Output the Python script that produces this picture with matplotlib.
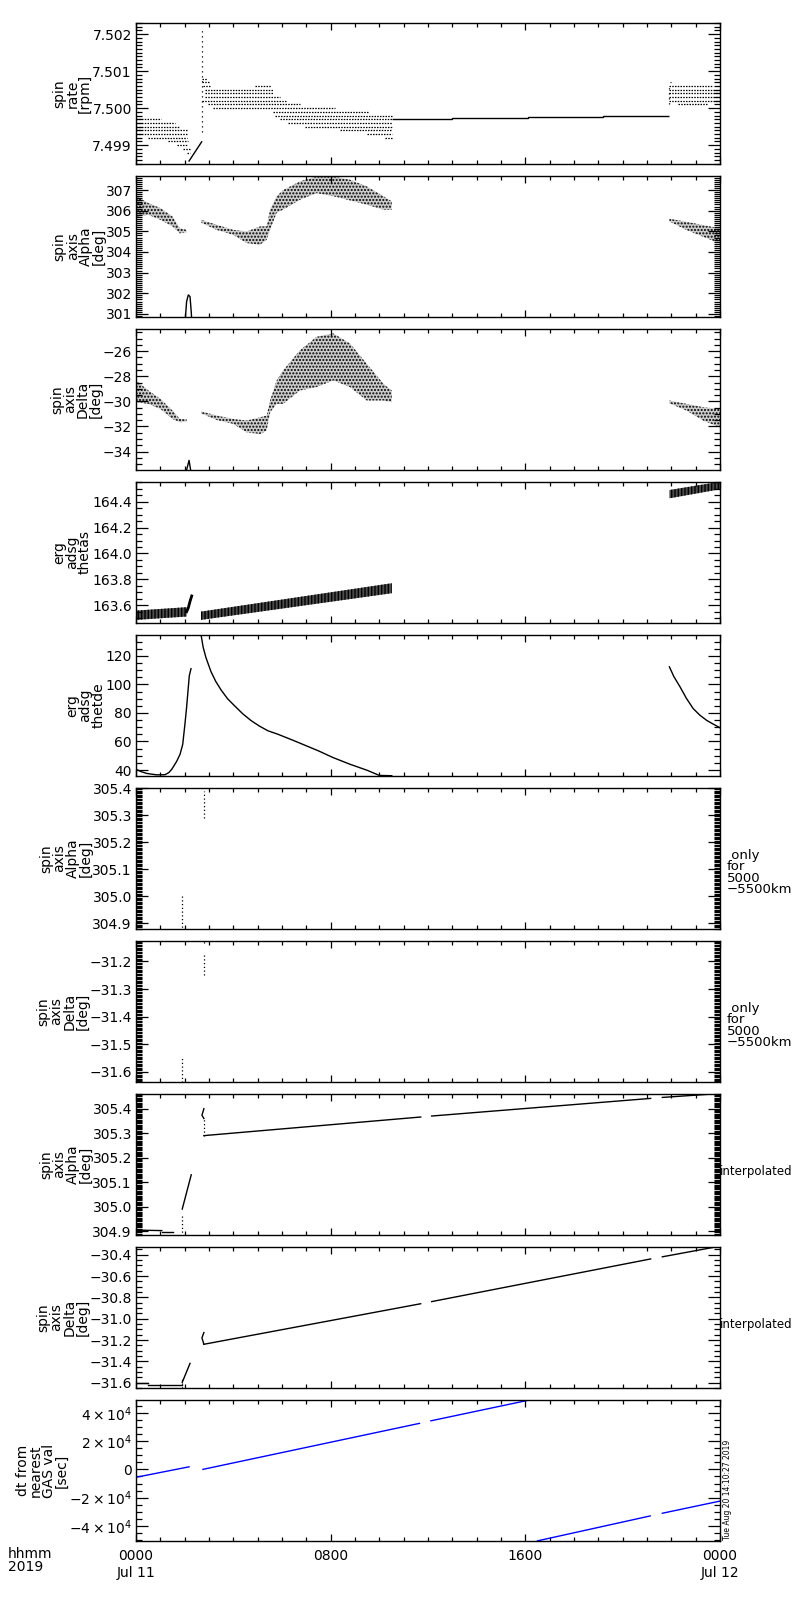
import numpy as np
import matplotlib.pyplot as plt
from matplotlib.ticker import MultipleLocator, FixedLocator, FuncFormatter

plt.rcParams['font.family'] = ['DejaVu Sans']
plt.rcParams['hatch.linewidth'] = 1.0
plt.rcParams['axes.linewidth'] = 1.0

# time axis: hours after 0000 Jul 11 2019
hour_ticks = [0, 8, 16, 24]
hour_labels = ['0000\nJul 11', '0800', '1600', '0000\nJul 12']

# --- spin rate: quantised dotted rows (level, start, end)
rate_level = [7.4997, 7.4996, 7.4995, 7.4994, 7.4993, 7.4992, 7.4991, 7.4990, 7.4989, 7.4988,
              7.5008, 7.5007, 7.5006, 7.5006, 7.5005, 7.5004, 7.5003, 7.5002, 7.5001, 7.5000,
              7.4999, 7.4998, 7.4997, 7.4996, 7.4995, 7.4994, 7.4993, 7.4992,
              7.5007, 7.5006, 7.5005, 7.5004, 7.5003, 7.5002, 7.5001]
rate_start = [0.00, 0.00, 0.00, 0.00, 0.00, 0.50, 1.33, 1.67, 1.95, 2.08,
              2.72, 2.72, 2.77, 4.89, 2.84, 2.84, 2.84, 2.72, 2.97, 3.18,
              5.64, 5.71, 5.92, 6.26, 6.95, 8.38, 9.48, 10.23,
              21.96, 21.92, 21.92, 21.92, 21.92, 21.92, 22.29]
rate_end = [1.03, 1.60, 1.81, 2.08, 2.08, 2.08, 2.15, 2.15, 2.22, 2.22,
            2.93, 3.04, 3.04, 5.53, 5.64, 5.64, 5.92, 6.19, 6.74, 8.18,
            9.55, 10.51, 10.51, 10.51, 10.51, 10.51, 10.51, 10.51,
            22.00, 23.66, 24.0, 24.0, 24.0, 24.0, 23.52]
rate_step_edges = [10.51, 12.97, 16.13, 19.20, 21.92]
rate_step_vals = [7.49970, 7.49973, 7.49976, 7.49978]
rate_ramp_t = [2.18, 2.70]
rate_ramp_v = [7.49857, 7.49909]
rate_spike_t = [2.70, 21.92]
rate_spike_lo = [7.49936, 7.50010]
rate_spike_hi = [7.50220, 7.50060]

# --- spin axis Alpha (scatter envelopes)
alpha_a_t = [0, 0.51, 1.0, 1.5, 1.8, 2.08]
alpha_a_hi = [306.7, 306.37, 306.13, 305.72, 305.15, 305.07]
alpha_a_lo = [305.7, 305.8, 305.56, 305.24, 304.9, 304.96]
alpha_b_t = [2.67, 3.31, 4.0, 4.55, 5.1, 5.37, 5.51, 5.78, 6.05, 6.74, 7.42, 8.11, 8.79, 9.48, 10.17, 10.51]
alpha_b_hi = [305.56, 305.32, 305.07, 304.99, 305.24, 305.24, 306.05, 306.7, 307.0, 307.42, 307.66,
              307.66, 307.5, 307.18, 306.7, 306.45]
alpha_b_lo = [305.43, 305.07, 304.83, 304.43, 304.35, 304.59, 305.07, 305.9, 306.05, 306.53, 306.85,
              306.7, 306.5, 306.29, 306.05, 306.05]
alpha_c_t = [21.92, 22.63, 23.32, 24.0]
alpha_c_hi = [305.61, 305.46, 305.30, 305.14]
alpha_c_lo = [305.48, 305.06, 304.73, 304.41]
alpha_spike_t = [2.01, 2.08, 2.15, 2.22, 2.27, 2.30]
alpha_spike_v = [300.5, 301.6, 301.92, 301.84, 301.1, 300.5]

# --- spin axis Delta
delta_a_t = [0, 0.51, 1.0, 1.5, 1.8, 2.08]
delta_a_hi = [-28.33, -29.13, -29.8, -30.73, -31.4, -31.43]
delta_a_lo = [-30.06, -30.20, -30.6, -31.4, -31.67, -31.6]
delta_b_t = alpha_b_t
delta_b_hi = [-30.79, -31.13, -31.4, -31.53, -31.27, -31.13, -29.93, -28.33, -27.52, -25.92, -24.85,
              -24.58, -25.38, -26.99, -28.6, -29.13]
delta_b_lo = [-30.95, -31.48, -31.8, -32.47, -32.6, -32.34, -30.87, -30.2, -30.2, -29.13, -28.86,
              -28.33, -28.86, -29.93, -29.93, -30.06]
delta_c_t = [21.92, 22.63, 23.32, 24.0]
delta_c_hi = [-29.93, -30.2, -30.47, -30.6]
delta_c_lo = [-30.15, -30.74, -31.54, -32.07]
delta_spike_t = [2.01, 2.18, 2.29]
delta_spike_v = [-36.0, -34.7, -36.0]

# --- erg adsg thetas (sawtooth band)
thetas_a_t = [0, 2.08]
thetas_a_lo = [163.487, 163.513]
thetas_a_hi = [163.559, 163.585]
thetas_ramp_t = [2.08, 2.15, 2.22, 2.29]
thetas_ramp_v = [163.55, 163.58, 163.63, 163.672]
thetas_b_t = [2.67, 10.51]
thetas_b_lo = [163.487, 163.693]
thetas_b_hi = [163.551, 163.77]
thetas_c_t = [21.92, 24.0]
thetas_c_lo = [164.426, 164.496]
thetas_c_hi = [164.49, 164.554]

# --- erg adsg thetade
thetade_a_t = [0, 0.22, 0.44, 0.85, 1.19, 1.35, 1.47, 1.67, 1.81, 1.92, 2.01, 2.08, 2.15, 2.19, 2.26]
thetade_a_v = [40.5, 38.8, 37.6, 36.6, 36.7, 38.2, 40.5, 46, 51, 58, 72, 84, 98, 106, 111]
thetade_b_t = [2.65, 2.76, 2.87, 3.08, 3.28, 3.5, 3.76, 4.05, 4.38, 4.73, 5.07, 5.42, 5.84, 6.5,
               7.5, 8.1, 8.8, 9.5, 10.0, 10.51]
thetade_b_v = [137, 126, 119, 109, 102, 96, 90, 85, 79.5, 74.6, 70.8, 67.5, 65, 60.5,
               53.4, 48.7, 44, 39.8, 36.2, 36.0]
thetade_c_t = [21.92, 22.1, 22.36, 22.62, 22.9, 23.18, 23.46, 23.74, 24.0]
thetade_c_v = [112.3, 105.6, 98.2, 90.2, 83.0, 78.3, 74.7, 72.0, 69.6]

# --- alpha / delta only for 5000-5500 km (vertical dotted runs)
ofa_t = [1.90, 2.79]
ofa_lo = [304.87, 305.29]
ofa_hi = [305.00, 305.39]
ofd_t = [1.90, 2.79, 2.79]
ofd_lo = [-31.65, -31.25, -31.135]
ofd_hi = [-31.546, -31.17, -31.125]

# --- interpolated alpha
ia_seg_t = [[0, 1.06], [1.07, 1.51], [1.90, 2.27], [2.79, 2.71, 2.79],
            [2.79, 11.70], [12.15, 21.15], [21.63, 24.0]]
ia_seg_v = [[304.904, 304.902], [304.895, 304.895], [304.99, 305.13], [305.40, 305.373, 305.36],
            [305.29, 305.366], [305.370, 305.442], [305.446, 305.462]]
ia_dot_t = [1.90, 2.79]
ia_dot_lo = [304.88, 305.29]
ia_dot_hi = [304.97, 305.36]

# --- interpolated delta
id_seg_t = [[0, 0.51], [0.51, 1.88], [1.90, 2.22], [2.79, 2.71, 2.79],
            [2.79, 11.70], [12.15, 21.15], [21.63, 24.0]]
id_seg_v = [[-31.60, -31.60], [-31.619, -31.619], [-31.597, -31.419], [-31.13, -31.18, -31.24],
            [-31.24, -30.86], [-30.84, -30.44], [-30.42, -30.32]]
id_dot_t = [1.90]
id_dot_lo = [-31.65]
id_dot_hi = [-31.56]

# --- dt from nearest GAS val [sec]
dt_seg_t = [[0, 2.18], [2.75, 11.65], [12.12, 16.17], [16.5, 21.13], [21.63, 24.0]]
dt_seg_v = [[-5600, 1800], [0, 32500], [34300, 49000], [-50500, -32900], [-31000, -22400]]

panels = [
    dict(label='spin\nrate\n[rpm]', ylim=(7.49849, 7.5023), major=0.001, minor=0.0001, fmt='%.3f'),
    dict(label='spin\naxis\nAlpha\n[deg]', ylim=(300.85, 307.68), major=1, minor=0.1, fmt='%d'),
    dict(label='spin\naxis\nDelta\n[deg]', ylim=(-35.47, -24.23), major=2, minor=0.5, fmt='%d'),
    dict(label='erg\nadsg\nthetas', ylim=(163.463, 164.552), major=0.2, minor=0.05, fmt='%.1f'),
    dict(label='erg\nadsg\nthetde', ylim=(35.8, 134.6), major=20, minor=5, fmt='%d'),
    dict(label='spin\naxis\nAlpha\n[deg]', ylim=(304.879, 305.40), major=0.1, minor=0.005, fmt='%.1f'),
    dict(label='spin\naxis\nDelta\n[deg]', ylim=(-31.637, -31.126), major=0.1, minor=0.005, fmt='%.1f'),
    dict(label='spin\naxis\nAlpha\n[deg]', ylim=(304.884, 305.46), major=0.1, minor=0.005, fmt='%.1f'),
    dict(label='spin\naxis\nDelta\n[deg]', ylim=(-31.65, -30.328), major=0.2, minor=0.05, fmt='%.1f'),
    dict(label='dt from\nnearest\nGAS val\n[sec]', ylim=(-50600, 49000), major=20000, minor=5000, fmt=None),
]


def minus_fmt(fmt):
    return FuncFormatter(lambda v, pos: (fmt % v).replace('-', '\u2212'))


def sci_fmt(v, pos):
    m = int(round(v / 1e4))
    if m == 0:
        return '0'
    return r'$%d\times10^{4}$' % m


def cloud(ax, t, lo, hi):
    # speckled envelope of the scatter cloud
    ax.fill_between(t, lo, hi, facecolor='0.8', edgecolor='k', hatch='.....', linewidth=0)


def band(ax, t, lo, hi):
    ax.fill_between(t, lo, hi, facecolor='0.3', edgecolor='k', hatch='|||||', linewidth=0)


fig = plt.figure(figsize=(8, 16), dpi=100)
axes = []
for i, p in enumerate(panels):
    top = 23 + 153 * i
    ax = fig.add_axes([136 / 800, 1 - (top + 141) / 1600, 584 / 800, 141 / 1600])
    ax.set_xlim(0, 24)
    ax.set_ylim(*p['ylim'])
    ax.xaxis.set_major_locator(FixedLocator(hour_ticks))
    ax.xaxis.set_minor_locator(MultipleLocator(1))
    ax.yaxis.set_major_locator(MultipleLocator(p['major']))
    ax.yaxis.set_minor_locator(MultipleLocator(p['minor']))
    if p['fmt']:
        ax.yaxis.set_major_formatter(minus_fmt(p['fmt']))
    else:
        ax.yaxis.set_major_formatter(FuncFormatter(sci_fmt))
    ax.tick_params(which='both', direction='in', top=True, right=True, labelsize=10, width=0.9)
    ax.tick_params(axis='y', which='major', length=8.5, pad=3)
    ax.tick_params(axis='y', which='minor', length=4.5)
    ax.tick_params(axis='x', which='major', length=5, pad=6)
    ax.tick_params(axis='x', which='minor', length=3)
    ax.set_ylabel(p['label'], fontsize=10, linespacing=0.9, labelpad=0)
    if i < len(panels) - 1:
        ax.tick_params(labelbottom=False)
    else:
        ax.set_xticklabels(hour_labels)
    axes.append(ax)

# panel 1: spin rate
ax = axes[0]
ax.hlines(rate_level, rate_start, rate_end, colors='k', linewidth=0.9, linestyles=(0, (1.2, 1.0)))
ax.stairs(rate_step_vals, rate_step_edges, baseline=None, color='k', linewidth=1.0)
ax.plot(rate_ramp_t, rate_ramp_v, color='k', linewidth=1.0)
ax.vlines(rate_spike_t, rate_spike_lo, rate_spike_hi, colors='k', linewidth=0.9, linestyles=(0, (1, 3)))

# panel 2: alpha
ax = axes[1]
cloud(ax, alpha_a_t, alpha_a_lo, alpha_a_hi)
cloud(ax, alpha_b_t, alpha_b_lo, alpha_b_hi)
cloud(ax, alpha_c_t, alpha_c_lo, alpha_c_hi)
ax.plot(alpha_spike_t, alpha_spike_v, color='k', linewidth=1.0)

# panel 3: delta
ax = axes[2]
cloud(ax, delta_a_t, delta_a_lo, delta_a_hi)
cloud(ax, delta_b_t, delta_b_lo, delta_b_hi)
cloud(ax, delta_c_t, delta_c_lo, delta_c_hi)
ax.plot(delta_spike_t, delta_spike_v, color='k', linewidth=1.0)

# panel 4: thetas
ax = axes[3]
band(ax, thetas_a_t, thetas_a_lo, thetas_a_hi)
band(ax, thetas_b_t, thetas_b_lo, thetas_b_hi)
band(ax, thetas_c_t, thetas_c_lo, thetas_c_hi)
ax.plot(thetas_ramp_t, thetas_ramp_v, color='k', linewidth=2.0)

# panel 5: thetade
ax = axes[4]
for t, v in [(thetade_a_t, thetade_a_v), (thetade_b_t, thetade_b_v), (thetade_c_t, thetade_c_v)]:
    ax.plot(t, v, color='k', linewidth=1.0)

# panels 6-7: only for 5000-5500 km
axes[5].vlines(ofa_t, ofa_lo, ofa_hi, colors='k', linewidth=0.9, linestyles=(0, (1, 2)))
axes[6].vlines(ofd_t, ofd_lo, ofd_hi, colors='k', linewidth=0.9, linestyles=(0, (1, 2)))
for ax in axes[5:7]:
    ax.text(1.012, 0.40, ' only\nfor\n5000\n\u22125500km', transform=ax.transAxes,
            fontsize=9.5, va='center', ha='left', linespacing=0.85)

# panels 8-9: interpolated
for t, v in zip(ia_seg_t, ia_seg_v):
    axes[7].plot(t, v, color='k', linewidth=1.0)
axes[7].vlines(ia_dot_t, ia_dot_lo, ia_dot_hi, colors='k', linewidth=0.9, linestyles=(0, (1, 2)))
for t, v in zip(id_seg_t, id_seg_v):
    axes[8].plot(t, v, color='k', linewidth=1.0)
axes[8].vlines(id_dot_t, id_dot_lo, id_dot_hi, colors='k', linewidth=0.9, linestyles=(0, (1, 2)))
for ax in axes[7:9]:
    ax.text(1.0, 0.447, 'interpolated', transform=ax.transAxes, fontsize=8.5, va='center', ha='left')

# panel 10: dt
for t, v in zip(dt_seg_t, dt_seg_v):
    axes[9].plot(t, v, color='#0000ff', linewidth=1.0)
axes[9].text(1.005, 0.01, 'Tue Aug 20 14:10:27 2019', transform=axes[9].transAxes,
             fontsize=5.5, rotation=90, va='bottom', ha='left')

fig.text(8 / 800, 1 - 1547 / 1600, 'hhmm\n2019', fontsize=10, va='top', ha='left', linespacing=0.95)

fig.savefig('out.png', dpi=100)
